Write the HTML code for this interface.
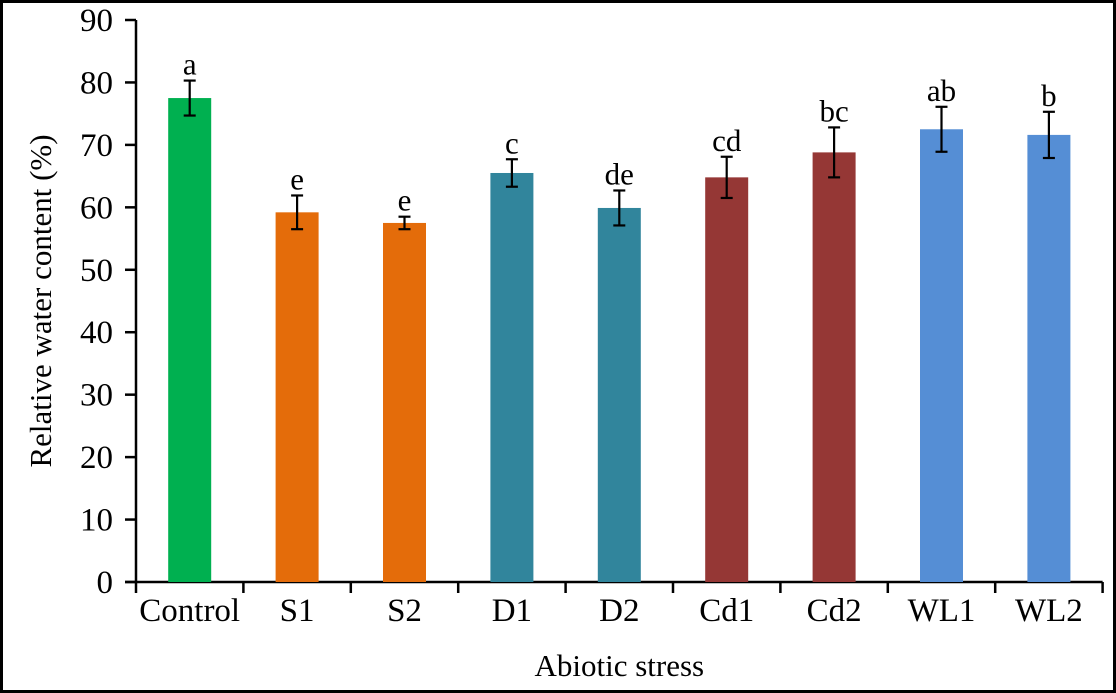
<!DOCTYPE html>
<html><head><meta charset="utf-8"><style>
html,body{margin:0;padding:0;background:#fff}
#frame{position:absolute;left:0;top:0;width:1110px;height:687px;border:3px solid #000;}
svg{position:absolute;left:0;top:0}
text{font-family:"Liberation Serif",serif;fill:#000}
</style></head><body>
<div id="frame"></div>
<svg id="chart" width="1116" height="693"></svg>
<script>
const categories=["Control","S1","S2","D1","D2","Cd1","Cd2","WL1","WL2"];
const values=[77.5,59.2,57.5,65.5,59.9,64.8,68.8,72.5,71.6];
const errors=[2.8,2.7,1.0,2.2,2.8,3.3,4.0,3.6,3.7];
const letters=["a","e","e","c","de","cd","bc","ab","b"];
const colors=["#00B050","#E46C0A","#E46C0A","#31859C","#31859C","#953735","#953735","#558ED5","#558ED5"];
const yTicks=[0,10,20,30,40,50,60,70,80,90];
const NS="http://www.w3.org/2000/svg";
const svg=document.getElementById('chart');
const x0=136,step=107.4,y0=582,yTop=20,ymax=90,bw=43;
const y=v=>y0-(v/ymax)*(y0-yTop);
const xc=i=>x0+step*(i+0.5);
function mk(t,a,p){const e=document.createElementNS(NS,t);for(const k in a)e.setAttribute(k,a[k]);(p||svg).appendChild(e);return e;}
let ax=mk('line',{x1:x0,y1:y0,x2:x0,y2:yTop,stroke:'#000','stroke-width':2.5});


let xa=mk('line',{x1:x0-11,y1:y0,x2:x0+step*categories.length,y2:y0,stroke:'#000','stroke-width':2.5});


yTicks.forEach(v=>{
  let t=mk('line',{x1:x0-11,y1:y(v),x2:x0,y2:y(v),stroke:'#000','stroke-width':2.5});
  
  
  let l=mk('text',{x:x0-23,y:y(v)+11,'text-anchor':'end','font-size':33});
  l.textContent=v;
  
  
});
for(let i=0;i<=categories.length;i++){
  let t=mk('line',{x1:x0+step*i,y1:y0,x2:x0+step*i,y2:y0+11,stroke:'#000','stroke-width':2.5});
  
  
}
categories.forEach((c,i)=>{
  const cx=xc(i);
  let b=mk('rect',{x:cx-bw/2,y:y(values[i]),width:bw,height:y0-y(values[i]),fill:colors[i]});
  
  
  const hi=y(values[i]+errors[i]),lo=y(values[i]-errors[i]);
  let g=mk('g',{stroke:'#000','stroke-width':2.2});
  
  
  mk('line',{x1:cx,y1:hi,x2:cx,y2:lo},g);
  mk('line',{x1:cx-6,y1:hi,x2:cx+6,y2:hi},g);
  mk('line',{x1:cx-6,y1:lo,x2:cx+6,y2:lo},g);
  let lt=mk('text',{x:cx,y:hi-6,'text-anchor':'middle','font-size':31});
  lt.textContent=letters[i];
  
  
  let cl=mk('text',{x:cx,y:y0+39,'text-anchor':'middle','font-size':33});
  cl.textContent=c;
  
  
});
let xt=mk('text',{x:x0+step*categories.length/2,y:676,'text-anchor':'middle','font-size':31});
xt.textContent='Abiotic stress';


let yt=mk('text',{x:0,y:0,'text-anchor':'middle','font-size':31,transform:'translate(51,'+((y0+yTop)/2)+') rotate(-90)'});
yt.textContent='Relative water content (%)';


</script>
</body></html>
